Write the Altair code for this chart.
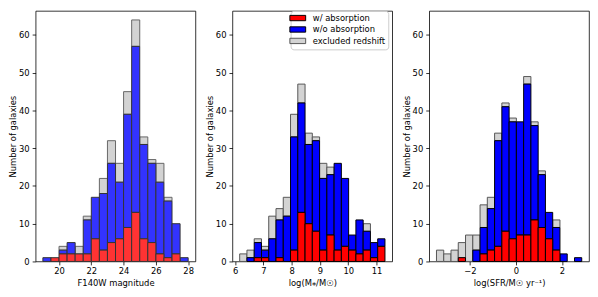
import altair as alt
import numpy as np
import pandas as pd

CATS = ["w/ absorption", "w/o absorption", "excluded redshift"]

# Panel 1: F140W magnitude (cumulative stacked tops)
mag_range = [19.0, 28.0]
mag_red = [0, 1, 2, 2, 2, 2, 6, 3, 5, 6, 9, 13, 6, 5, 2, 1, 2, 0]
mag_blue = [1, 1, 3, 5, 2, 11, 17, 18, 26, 21, 39, 57, 31, 26, 21, 16, 10, 1]
mag_gray = [1, 1, 4, 5, 4, 12, 17, 22, 32, 26, 45, 64, 33, 27, 26, 17, 10, 1]
mag_ticks = [20, 22, 24, 26, 28]

# Panel 2: stellar mass
mass_range = [6.16, 11.30]
mass_red = [0, 0, 1, 1, 0, 1, 0, 3, 13, 10, 8, 3, 7, 3, 4, 3, 2, 3, 1, 4]
mass_blue = [0, 1, 5, 3, 6, 11, 12, 33, 42, 31, 32, 22, 23, 26, 22, 7, 11, 8, 5, 6]
mass_gray = [2, 3, 6, 4, 12, 14, 17, 39, 47, 34, 33, 26, 25, 26, 22, 7, 11, 10, 5, 6]
mass_ticks = [6, 7, 8, 9, 10, 11]

# Panel 3: SFR
sfr_range = [-3.46, 2.86]
sfr_red = [0, 0, 0, 1, 0, 0, 2, 3, 4, 8, 6, 7, 7, 11, 9, 6, 3, 0, 0, 0]
sfr_blue = [0, 0, 0, 1, 0, 3, 9, 14, 32, 41, 37, 37, 47, 36, 23, 13, 9, 2, 0, 1]
sfr_gray = [3, 2, 3, 5, 7, 7, 15, 17, 34, 42, 38, 37, 49, 37, 24, 13, 11, 2, 0, 1]
sfr_ticks = [-2, 0, 2]

y_ticks = [0, 10, 20, 30, 40, 50, 60]
Y_MAX = 66.4
FS = 8.5


def segments(rng, red, blue, gray):
    n = len(red)
    edges = np.linspace(rng[0], rng[1], n + 1)
    rows = []
    for i in range(n):
        if gray[i] > blue[i]:
            rows.append((edges[i], edges[i + 1], blue[i], gray[i], CATS[2]))
    for i in range(n):
        if blue[i] > red[i]:
            rows.append((edges[i], edges[i + 1], red[i], blue[i], CATS[1]))
    for i in range(n):
        if red[i] > 0:
            rows.append((edges[i], edges[i + 1], 0, red[i], CATS[0]))
    return pd.DataFrame(rows, columns=["x0", "x1", "y0", "y1", "cat"])


def panel(df, rng, ticks, xtitle, fills, strokes, legend):
    span = rng[1] - rng[0]
    dom = [rng[0] - 0.05 * span, rng[1] + 0.05 * span]
    return alt.Chart(df).mark_rect(strokeWidth=1).encode(
        x=alt.X("x0:Q", scale=alt.Scale(domain=dom, nice=False, zero=False),
                axis=alt.Axis(values=ticks, title=xtitle, format="d")),
        x2="x1:Q",
        y=alt.Y("y0:Q", scale=alt.Scale(domain=[0, Y_MAX], nice=False),
                axis=alt.Axis(values=y_ticks, title="Number of galaxies")),
        y2="y1:Q",
        color=alt.Color("cat:N", scale=alt.Scale(domain=CATS, range=fills),
                        legend=legend),
        stroke=alt.Stroke("cat:N", scale=alt.Scale(domain=CATS, range=strokes),
                          legend=None),
    ).properties(width=162, height=254)


leg = alt.Legend(
    orient="none", legendX=59, legendY=0, padding=3, title=None,
    strokeColor="#cccccc", cornerRadius=3, fillColor="white",
    labelFont="DejaVu Sans", labelFontSize=FS, labelColor="black",
    symbolType="M-2.67,-0.9H2.67V0.9H-2.67Z", symbolSize=36,
    symbolStrokeColor="black", symbolStrokeWidth=1, symbolOpacity=1,
    labelOffset=11, rowPadding=1.6,
)

p1 = panel(segments(mag_range, mag_red, mag_blue, mag_gray), mag_range, mag_ticks,
           "F140W magnitude", ["#ff3333", "#3333ff", "#d3d3d3"],
           ["#333333", "#333333", "#666666"], None)
p2 = panel(segments(mass_range, mass_red, mass_blue, mass_gray), mass_range, mass_ticks,
           "log(M⁎/M☉)", ["#ff0000", "#0000ff", "#d3d3d3"],
           ["#000000", "#000000", "#555555"], leg)
p3 = panel(segments(sfr_range, sfr_red, sfr_blue, sfr_gray), sfr_range, sfr_ticks,
           "log(SFR/M☉ yr⁻¹)", ["#ff0000", "#0000ff", "#d3d3d3"],
           ["#000000", "#000000", "#555555"], None)

chart = alt.hconcat(p1, p2, p3, spacing=37.5, bounds="flush").resolve_scale(
    color="independent", stroke="independent"
).properties(
    padding={"left": 0, "top": 0, "right": 0, "bottom": 0}
).configure_view(
    stroke="black", strokeWidth=0.8
).configure_axis(
    domain=False, grid=False, tickColor="black", tickSize=3.5, tickWidth=0.8,
    labelFont="DejaVu Sans", labelFontSize=FS, labelColor="black", labelPadding=3,
    titleFont="DejaVu Sans", titleFontSize=FS, titleFontWeight="normal",
    titleColor="black", titlePadding=1,
).configure_axisX(labelPadding=2, titlePadding=3)

chart.save("out.html", embed_options={"renderer": "svg", "actions": False})
